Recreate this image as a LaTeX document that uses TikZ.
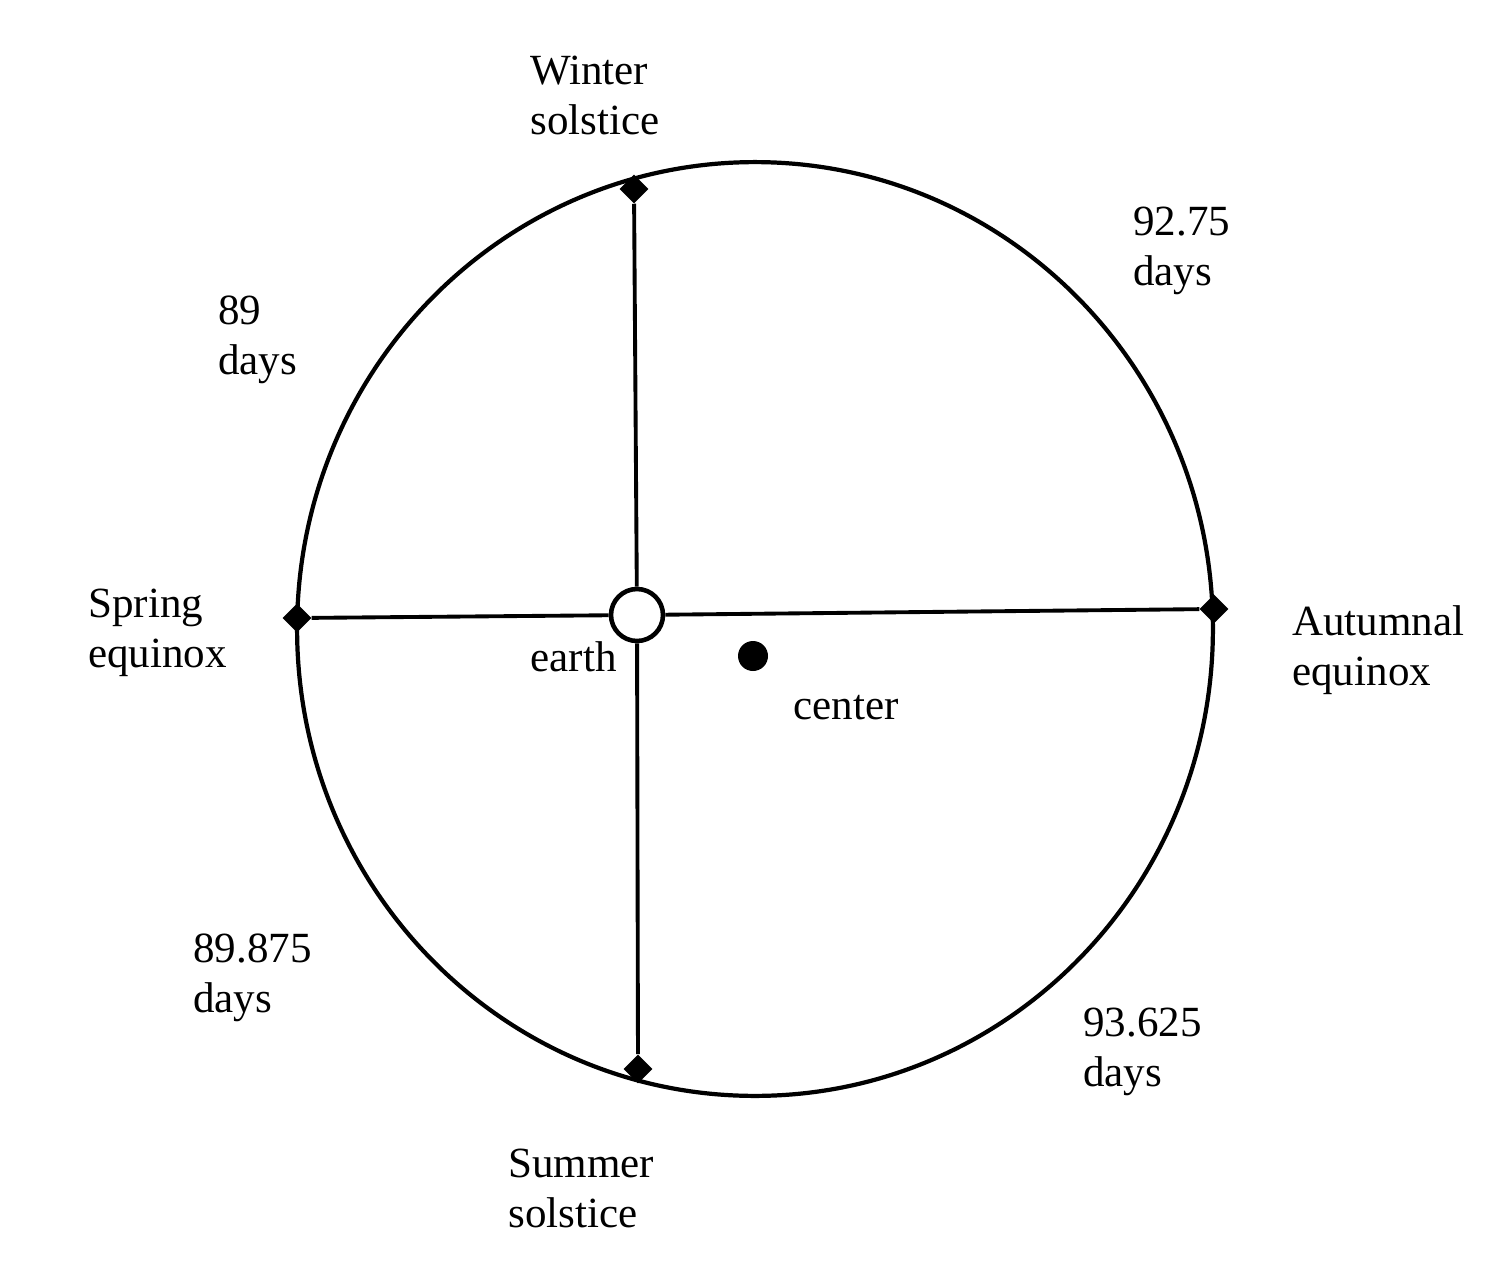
\documentclass[tikz,border=0pt]{standalone}
\usepackage{fontspec}
\setmainfont{Liberation Serif}
\usetikzlibrary{shapes.geometric,positioning}

\tikzset{
  orbit/.style={line width=2.4pt},
  axis/.style={line width=2.2pt},
  diam/.style={diamond,fill=black,inner sep=0pt,minimum size=0.58cm},
  lbl/.style={align=left,inner sep=0pt,font=\fontsize{24.5}{28.5}\selectfont},
}

\begin{document}
\begin{tikzpicture}[x=0.02cm,y=-0.02cm]
\useasboundingbox (0,0) rectangle (1512,1268);
% orbit
\draw[orbit] (755,629) ellipse [x radius=9.16cm,y radius=9.34cm];
% solstices and equinoxes
\node[diam] (winter) at (634,189) {};
\node[diam] (summer) at (638,1069) {};
\node[diam] (spring) at (297,618) {};
\node[diam] (autumn) at (1214,609) {};
% earth and center
\node[draw,circle,line width=2.6pt,fill=white,minimum size=1.04cm,inner sep=0pt] (earth) at (637,615) {};
\node[circle,fill=black,minimum size=0.6cm,inner sep=0pt] (ctr) at (753,656) {};
\draw[axis] (winter) -- (earth);
\draw[axis] (earth) -- (summer);
\draw[axis] (spring) -- (earth);
\draw[axis] (earth) -- (autumn);
% labels
\node[lbl,anchor=west] (winterlbl) at (530,95) {Winter\\solstice};
\node[lbl,anchor=west] (summerlbl) at (508,1188) {Summer\\solstice};
\node[lbl,anchor=west] (springlbl) at (88,633) {Spring\\equinox};
\node[lbl,anchor=west] (autumnlbl) at (1292,650) {Autumnal\\equinox};
\node[lbl,anchor=east] (earthlbl) at (617,657) {earth};
\node[lbl,anchor=west] (ctrlbl) at (793,708) {center};
\node[lbl,anchor=west] (q1) at (1133,251) {92.75\\days};
\node[lbl,anchor=west] (q2) at (218,340) {89\\days};
\node[lbl,anchor=west] (q3) at (193,978) {89.875\\days};
\node[lbl,anchor=west] (q4) at (1083,1052) {93.625\\days};
\end{tikzpicture}
\end{document}
